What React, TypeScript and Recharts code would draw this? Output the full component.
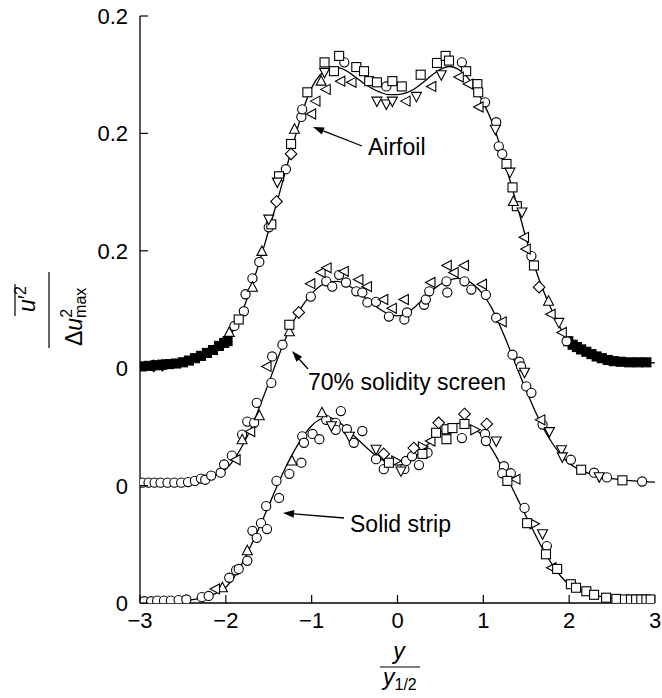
import { ComposedChart, Line, Scatter, XAxis, YAxis } from "recharts";

const FONT = "'Liberation Sans', Arial, Helvetica, sans-serif";

// axis ticks and the labels printed beside them (the figure is staggered)
const X_TICKS = [-3, -2, -1, 0, 1, 2, 3];
const Y_TICKS = [0, 0.2, 0.4, 0.6, 0.8, 1.0];
const Y_TICK_LABELS = ["0", "0", "0", "0.2", "0.2", "0.2"];

// vertical shift of each curve on the shared axis
const STRIP_OFFSET = 0;
const SCREEN_OFFSET = 0.2;
const AIRFOIL_OFFSET = 0.4;

// fitted curves, [y/y1/2, value]
const AIRFOIL_LINE = [
  [-3, 0.003], [-2.5, 0.009], [-2.25, 0.02], [-2, 0.042], [-1.9, 0.068], [-1.8, 0.1],
  [-1.7, 0.14], [-1.6, 0.185], [-1.5, 0.235], [-1.4, 0.285], [-1.3, 0.338], [-1.2, 0.39],
  [-1.1, 0.44], [-1.0, 0.478], [-0.9, 0.5], [-0.8, 0.51], [-0.7, 0.512], [-0.6, 0.507],
  [-0.5, 0.497], [-0.4, 0.486], [-0.3, 0.477], [-0.2, 0.47], [-0.1, 0.466], [0, 0.466],
  [0.1, 0.469], [0.2, 0.476], [0.3, 0.487], [0.4, 0.499], [0.5, 0.509], [0.6, 0.514],
  [0.7, 0.51], [0.8, 0.498], [0.9, 0.478], [1.0, 0.452], [1.1, 0.42], [1.2, 0.377],
  [1.3, 0.325], [1.4, 0.274], [1.5, 0.22], [1.6, 0.172], [1.7, 0.132], [1.8, 0.098],
  [1.9, 0.068], [2.0, 0.045], [2.25, 0.027], [2.5, 0.016], [2.75, 0.011], [3, 0.009],
];
const SCREEN_LINE = [
  [-3, 0.004], [-2.5, 0.006], [-2.25, 0.012], [-2, 0.028], [-1.9, 0.045], [-1.8, 0.07],
  [-1.7, 0.1], [-1.6, 0.137], [-1.5, 0.175], [-1.4, 0.215], [-1.3, 0.252], [-1.2, 0.283],
  [-1.1, 0.308], [-1.0, 0.327], [-0.9, 0.34], [-0.8, 0.347], [-0.7, 0.348], [-0.6, 0.343],
  [-0.5, 0.334], [-0.4, 0.323], [-0.3, 0.311], [-0.2, 0.3], [-0.1, 0.292], [0, 0.289],
  [0.1, 0.293], [0.2, 0.304], [0.3, 0.318], [0.4, 0.332], [0.5, 0.343], [0.6, 0.35],
  [0.7, 0.353], [0.8, 0.35], [0.9, 0.341], [1.0, 0.325], [1.1, 0.302], [1.2, 0.27],
  [1.3, 0.235], [1.4, 0.198], [1.5, 0.162], [1.6, 0.128], [1.7, 0.098], [1.8, 0.073],
  [1.9, 0.053], [2.0, 0.038], [2.25, 0.02], [2.5, 0.012], [2.75, 0.008], [3, 0.006],
];
const STRIP_LINE = [
  [-3, 0.002], [-2.5, 0.004], [-2.25, 0.01], [-2, 0.027], [-1.9, 0.045], [-1.8, 0.07],
  [-1.7, 0.1], [-1.6, 0.132], [-1.5, 0.166], [-1.4, 0.2], [-1.3, 0.232], [-1.2, 0.26],
  [-1.1, 0.284], [-1.0, 0.302], [-0.9, 0.313], [-0.8, 0.316], [-0.7, 0.31], [-0.6, 0.298],
  [-0.5, 0.284], [-0.4, 0.27], [-0.3, 0.257], [-0.2, 0.246], [-0.1, 0.238], [0, 0.235],
  [0.1, 0.238], [0.2, 0.248], [0.3, 0.262], [0.4, 0.277], [0.5, 0.291], [0.6, 0.301],
  [0.7, 0.306], [0.8, 0.305], [0.9, 0.297], [1.0, 0.283], [1.1, 0.262], [1.2, 0.236],
  [1.3, 0.207], [1.4, 0.177], [1.5, 0.147], [1.6, 0.118], [1.7, 0.09], [1.8, 0.066],
  [1.9, 0.046], [2.0, 0.031], [2.25, 0.015], [2.5, 0.008], [2.75, 0.005], [3, 0.004],
];

// airfoil measurements
const AIRFOIL_FILLED_SQ = [
  [-2.98, 0.003], [-2.9, 0.004], [-2.82, 0.005], [-2.74, 0.006], [-2.66, 0.007], [-2.58, 0.008],
  [-2.5, 0.01], [-2.43, 0.013], [-2.36, 0.017], [-2.29, 0.021], [-2.22, 0.026], [-2.15, 0.031],
  [-2.08, 0.038], [-2.02, 0.043], [-1.98, 0.046],
  [1.99, 0.046], [2.04, 0.04], [2.09, 0.036], [2.14, 0.032], [2.2, 0.028], [2.26, 0.024],
  [2.32, 0.02], [2.38, 0.017], [2.45, 0.014], [2.52, 0.012], [2.6, 0.011], [2.7, 0.01],
  [2.8, 0.01], [2.9, 0.01],
];
const AIRFOIL_FILLED_DIA = [[-2.84, 0.004], [-2.74, 0.005]];
const AIRFOIL_CIRCLE = [
  [-1.9, 0.072], [-1.79, 0.097], [-1.77, 0.126], [-1.69, 0.153], [-1.61, 0.181], [-1.5, 0.24],
  [-1.3, 0.339], [-1.12, 0.428], [-1.11, 0.441], [-0.62, 0.521], [-0.13, 0.48], [0.75, 0.521],
  [1.02, 0.453], [1.15, 0.419], [1.18, 0.378], [1.22, 0.365], [1.56, 0.191], [1.97, 0.046],
];
const AIRFOIL_SQUARE = [
  [-1.85, 0.083], [-1.47, 0.245], [-1.38, 0.327], [-1.24, 0.382], [-1.05, 0.47], [-0.85, 0.521],
  [-0.74, 0.506], [-0.68, 0.532], [-0.48, 0.513], [-0.39, 0.506], [-0.33, 0.489], [-0.24, 0.487],
  [-0.06, 0.489], [0.05, 0.48], [0.27, 0.5], [0.46, 0.52], [0.56, 0.532], [0.6, 0.524],
  [0.8, 0.506], [0.93, 0.484], [0.94, 0.47], [1.27, 0.348], [1.34, 0.308], [1.39, 0.276],
  [1.59, 0.175],
];
const AIRFOIL_DIAMOND = [[-1.41, 0.284], [-1.24, 0.365], [1.65, 0.138]];
const AIRFOIL_TRI_UP = [
  [-1.96, 0.061], [-1.69, 0.138], [-1.58, 0.199], [-1.2, 0.407], [-0.89, 0.489], [1.35, 0.284],
  [1.76, 0.114],
];
const AIRFOIL_TRI_DOWN = [
  [-1.5, 0.254], [-1.4, 0.317], [-0.85, 0.504], [-0.24, 0.455], [-0.13, 0.45], [-0.06, 0.455],
  [0.22, 0.463], [0.51, 0.5], [1.14, 0.407], [1.31, 0.334], [1.45, 0.266], [1.88, 0.078],
];
const AIRFOIL_TRI_LEFT = [
  [-1.0, 0.433], [-0.95, 0.455], [-0.83, 0.475], [-0.66, 0.489], [-0.53, 0.487], [0.1, 0.455],
  [0.4, 0.48], [0.72, 0.496], [0.83, 0.484], [0.95, 0.445], [1.48, 0.223], [1.5, 0.203],
  [1.79, 0.092], [1.92, 0.061],
];

// 70% solidity screen measurements
const SCREEN_CIRCLE = [
  [-2.97, 0.005], [-2.9, 0.005], [-2.83, 0.005], [-2.76, 0.005], [-2.68, 0.005], [-2.6, 0.005],
  [-2.52, 0.005], [-2.44, 0.006], [-2.36, 0.008], [-2.29, 0.012], [-2.24, 0.01], [-2.17, 0.017],
  [-2.06, 0.022], [-2.02, 0.036], [-1.93, 0.051], [-1.81, 0.087], [-1.75, 0.109], [-1.67, 0.107],
  [-1.64, 0.141], [-1.47, 0.175], [-1.46, 0.22], [-1.34, 0.24], [-1.01, 0.322], [-0.83, 0.348],
  [-0.76, 0.339], [-0.68, 0.359], [-0.6, 0.346], [-0.48, 0.331], [-0.41, 0.329], [-0.35, 0.312],
  [-0.25, 0.313], [-0.1, 0.288], [0.08, 0.283], [0.11, 0.295], [0.31, 0.308], [0.33, 0.317],
  [0.37, 0.331], [0.57, 0.348], [0.58, 0.329], [0.78, 0.348], [0.86, 0.334], [1.03, 0.325],
  [1.15, 0.286], [1.34, 0.223], [1.42, 0.211], [1.44, 0.203], [1.5, 0.169], [1.56, 0.158],
  [1.69, 0.104], [2.02, 0.044], [2.29, 0.022], [2.44, 0.014], [2.85, 0.007],
];
const SCREEN_TRI_LEFT = [
  [-1.88, 0.044], [-1.71, 0.092], [-1.52, 0.203], [-1.01, 0.344], [-0.89, 0.363], [-0.82, 0.371],
  [-0.62, 0.365], [-0.45, 0.351], [-0.35, 0.339], [-0.16, 0.317], [-0.06, 0.302], [0.08, 0.317],
  [0.39, 0.346], [0.58, 0.375], [0.66, 0.363], [0.78, 0.375], [0.99, 0.343], [1.22, 0.279],
  [1.67, 0.112],
];
const SCREEN_TRI_UP = [[-1.81, 0.078], [-1.61, 0.119], [-1.26, 0.262]];
const SCREEN_TRI_DOWN = [[1.48, 0.193], [1.77, 0.092], [1.91, 0.061], [1.92, 0.049], [2.35, 0.015]];
const SCREEN_SQUARE = [[-1.26, 0.274], [2.14, 0.027], [2.62, 0.009]];
const SCREEN_DIAMOND = [[-1.15, 0.295]];

// solid strip measurements
const STRIP_CIRCLE = [
  [-2.95, 0.003], [-2.87, 0.003], [-2.8, 0.004], [-2.72, 0.004], [-2.64, 0.004], [-2.55, 0.005],
  [-2.46, 0.006], [-2.28, 0.01], [-2.2, 0.012], [-1.96, 0.043], [-1.88, 0.056], [-1.85, 0.058],
  [-1.75, 0.072], [-1.69, 0.123], [-1.64, 0.111], [-1.59, 0.136], [-1.52, 0.126], [-1.53, 0.165],
  [-1.38, 0.179], [-1.41, 0.208], [-1.26, 0.22], [-1.12, 0.239], [-1.11, 0.284], [-1.09, 0.273],
  [-0.99, 0.288], [-0.91, 0.279], [-0.83, 0.312], [-0.72, 0.307], [-0.66, 0.327], [-0.72, 0.295],
  [-0.59, 0.296], [-0.51, 0.273], [-0.41, 0.293], [-0.25, 0.245], [-0.16, 0.228], [0.08, 0.228],
  [0.1, 0.242], [0.17, 0.25], [0.25, 0.235], [0.35, 0.256], [0.75, 0.281], [1.02, 0.288],
  [1.03, 0.276], [1.24, 0.233], [1.22, 0.221], [1.32, 0.221], [1.48, 0.162], [1.74, 0.097],
];
const STRIP_TRI_UP = [[-2.04, 0.026], [-1.75, 0.089], [-1.23, 0.242], [-0.88, 0.324]];
const STRIP_TRI_LEFT = [[-2.12, 0.024], [0.39, 0.276], [1.38, 0.211], [1.8, 0.06]];
const STRIP_TRI_DOWN = [
  [-0.77, 0.302], [-0.56, 0.284], [-0.25, 0.262], [0.04, 0.225], [1.15, 0.276], [1.69, 0.118],
];
const STRIP_TRI_RIGHT = [[-0.02, 0.242], [0.29, 0.266], [0.9, 0.295], [1.59, 0.135]];
const STRIP_SQUARE = [
  [-0.1, 0.239], [0.29, 0.254], [0.45, 0.29], [0.57, 0.296], [0.57, 0.279], [0.64, 0.298],
  [0.78, 0.305], [1.28, 0.208], [1.51, 0.136], [1.73, 0.083], [1.86, 0.058], [2.02, 0.032],
  [2.08, 0.026], [2.2, 0.02], [2.29, 0.014], [2.43, 0.009], [2.55, 0.007], [2.65, 0.006],
  [2.72, 0.006], [2.78, 0.006], [2.84, 0.006], [2.9, 0.006], [2.95, 0.006],
];
const STRIP_DIAMOND = [[-0.16, 0.254], [0.19, 0.264], [0.48, 0.307], [0.78, 0.322], [1.04, 0.305]];

const toRows = (pts: number[][], off: number) => pts.map(([x, v]) => ({ x, y: v + off }));

const LINES = [
  { id: "airfoil", pts: AIRFOIL_LINE, off: AIRFOIL_OFFSET },
  { id: "screen", pts: SCREEN_LINE, off: SCREEN_OFFSET },
  { id: "strip", pts: STRIP_LINE, off: STRIP_OFFSET },
];

const MARKERS = [
  { id: "a-fsq", pts: AIRFOIL_FILLED_SQ, off: AIRFOIL_OFFSET, kind: "square", filled: true },
  { id: "a-fdi", pts: AIRFOIL_FILLED_DIA, off: AIRFOIL_OFFSET, kind: "diamond", filled: true },
  { id: "a-ci", pts: AIRFOIL_CIRCLE, off: AIRFOIL_OFFSET, kind: "circle" },
  { id: "a-sq", pts: AIRFOIL_SQUARE, off: AIRFOIL_OFFSET, kind: "square" },
  { id: "a-di", pts: AIRFOIL_DIAMOND, off: AIRFOIL_OFFSET, kind: "diamond" },
  { id: "a-tu", pts: AIRFOIL_TRI_UP, off: AIRFOIL_OFFSET, kind: "triUp" },
  { id: "a-td", pts: AIRFOIL_TRI_DOWN, off: AIRFOIL_OFFSET, kind: "triDown" },
  { id: "a-tl", pts: AIRFOIL_TRI_LEFT, off: AIRFOIL_OFFSET, kind: "triLeft" },
  { id: "s-ci", pts: SCREEN_CIRCLE, off: SCREEN_OFFSET, kind: "circle" },
  { id: "s-tl", pts: SCREEN_TRI_LEFT, off: SCREEN_OFFSET, kind: "triLeft" },
  { id: "s-tu", pts: SCREEN_TRI_UP, off: SCREEN_OFFSET, kind: "triUp" },
  { id: "s-td", pts: SCREEN_TRI_DOWN, off: SCREEN_OFFSET, kind: "triDown" },
  { id: "s-sq", pts: SCREEN_SQUARE, off: SCREEN_OFFSET, kind: "square" },
  { id: "s-di", pts: SCREEN_DIAMOND, off: SCREEN_OFFSET, kind: "diamond" },
  { id: "t-ci", pts: STRIP_CIRCLE, off: STRIP_OFFSET, kind: "circle" },
  { id: "t-tu", pts: STRIP_TRI_UP, off: STRIP_OFFSET, kind: "triUp" },
  { id: "t-tl", pts: STRIP_TRI_LEFT, off: STRIP_OFFSET, kind: "triLeft" },
  { id: "t-td", pts: STRIP_TRI_DOWN, off: STRIP_OFFSET, kind: "triDown" },
  { id: "t-tr", pts: STRIP_TRI_RIGHT, off: STRIP_OFFSET, kind: "triRight" },
  { id: "t-sq", pts: STRIP_SQUARE, off: STRIP_OFFSET, kind: "square" },
  { id: "t-di", pts: STRIP_DIAMOND, off: STRIP_OFFSET, kind: "diamond" },
];

const X_TICK_MARGIN = 10;
const Y_TICK_MARGIN = 12;

const markerShape = (kind: string, filled?: boolean) => (p: any) => {
  const { cx, cy } = p;
  if (cx == null || cy == null) return <g />;
  const st = { fill: filled ? "#000" : "#fff", stroke: "#000", strokeWidth: 1.1 };
  const pts = (a: number[][]) => a.map(([dx, dy]) => `${cx + dx},${cy + dy}`).join(" ");
  switch (kind) {
    case "circle":
      return <circle cx={cx} cy={cy} r={4.6} {...st} />;
    case "square":
      return <rect x={cx - 4.5} y={cy - 4.5} width={9} height={9} {...st} />;
    case "diamond":
      return <polygon points={pts([[0, -5.8], [5.8, 0], [0, 5.8], [-5.8, 0]])} {...st} />;
    case "triUp":
      return <polygon points={pts([[0, -5.5], [5, 4], [-5, 4]])} {...st} />;
    case "triDown":
      return <polygon points={pts([[-5, -4], [5, -4], [0, 5.5]])} {...st} />;
    case "triLeft":
      return <polygon points={pts([[-5.5, 0], [4, -5], [4, 5]])} {...st} />;
    default:
      return <polygon points={pts([[5.5, 0], [-4, -5], [-4, 5]])} {...st} />;
  }
};

const XTick = (props: any) => {
  const { x, y, payload } = props;
  const axisY = y - X_TICK_MARGIN;
  const v = payload.value;
  const label = v < 0 ? `\u2212${Math.abs(v)}` : String(v);
  return (
    <g>
      <line x1={x} x2={x} y1={axisY} y2={axisY - 8} stroke="#000" strokeWidth={1.2} />
      <text x={x} y={axisY + 25} textAnchor="middle" fontSize={22} fontFamily={FONT} fill="#000">
        {label}
      </text>
    </g>
  );
};

const YTick = (props: any) => {
  const { x, y, payload } = props;
  const axisX = x + Y_TICK_MARGIN;
  const i = Y_TICKS.findIndex((t) => Math.abs(t - payload.value) < 1e-6);
  return (
    <g>
      <line x1={axisX} x2={axisX + 8} y1={y} y2={y} stroke="#000" strokeWidth={1.2} />
      <text x={x} y={y + 8} textAnchor="end" fontSize={22} fontFamily={FONT} fill="#000">
        {Y_TICK_LABELS[i] ?? ""}
      </text>
    </g>
  );
};

const Arrow = ({ from, to }: { from: number[]; to: number[] }) => {
  const dx = to[0] - from[0];
  const dy = to[1] - from[1];
  const len = Math.hypot(dx, dy);
  const ux = dx / len;
  const uy = dy / len;
  const bx = to[0] - ux * 11;
  const by = to[1] - uy * 11;
  const head = `${to[0]},${to[1]} ${bx - uy * 3.8},${by + ux * 3.8} ${bx + uy * 3.8},${by - ux * 3.8}`;
  return (
    <g>
      <line x1={from[0]} y1={from[1]} x2={bx} y2={by} stroke="#000" strokeWidth={1.3} />
      <polygon points={head} fill="#000" />
    </g>
  );
};

export default function App() {
  return (
    <div style={{ position: "absolute", left: 0, top: 0, width: 662, height: 698, background: "#fff" }}>
      <ComposedChart width={662} height={698} margin={{ top: 16, right: 7, bottom: 55, left: 0 }}>
        <XAxis
          type="number"
          dataKey="x"
          domain={[-3, 3]}
          ticks={X_TICKS}
          interval={0}
          allowDataOverflow
          height={40}
          tickSize={0}
          tickMargin={X_TICK_MARGIN}
          tickLine={false}
          axisLine={{ stroke: "#000", strokeWidth: 1.3 }}
          tick={<XTick />}
        />
        <YAxis
          type="number"
          dataKey="y"
          domain={[0, 1]}
          ticks={Y_TICKS}
          interval={0}
          allowDataOverflow
          width={140}
          tickSize={0}
          tickMargin={Y_TICK_MARGIN}
          tickLine={false}
          axisLine={{ stroke: "#000", strokeWidth: 1.3 }}
          tick={<YTick />}
        />
        {LINES.map((l) => (
          <Line
            key={l.id}
            data={toRows(l.pts, l.off)}
            dataKey="y"
            type="monotone"
            stroke="#000"
            strokeWidth={1.3}
            dot={false}
            activeDot={false}
            isAnimationActive={false}
          />
        ))}
        {MARKERS.map((m) => (
          <Scatter
            key={m.id}
            data={toRows(m.pts, m.off)}
            shape={markerShape(m.kind, m.filled)}
            isAnimationActive={false}
          />
        ))}
      </ComposedChart>
      <svg
        width={662}
        height={698}
        style={{ position: "absolute", left: 0, top: 0, pointerEvents: "none" }}
        fontFamily={FONT}
      >
        <Arrow from={[362, 146]} to={[313, 127]} />
        <text x={368} y={155} fontSize={23} fill="#000">Airfoil</text>
        <Arrow from={[308, 369]} to={[292, 351]} />
        <text x={308} y={390} fontSize={23} fill="#000">70% solidity screen</text>
        <Arrow from={[344, 518]} to={[283, 513]} />
        <text x={350} y={532} fontSize={23} fill="#000">Solid strip</text>

        {/* x label: y / y_1/2 */}
        <text x={399} y={659} textAnchor="middle" fontSize={23} fontStyle="italic" fill="#000">y</text>
        <line x1={380} x2={420} y1={667} y2={667} stroke="#000" strokeWidth={1.2} />
        <text x={383} y={685} fontSize={23} fill="#000">
          <tspan fontStyle="italic">y</tspan>
          <tspan fontSize={16} dy={5}>1/2</tspan>
        </text>

        {/* y label: overline u'^2 / Δu^2_max, rotated */}
        <g transform="translate(49 310) rotate(-90)">
          <line x1={-38} x2={38} y1={0} y2={0} stroke="#000" strokeWidth={1.2} />
          <line x1={-6} x2={26} y1={-34} y2={-34} stroke="#000" strokeWidth={1.2} />
          <text x={-2} y={-14} fontSize={23} fill="#000">
            <tspan fontStyle="italic">u</tspan>
            <tspan>{"\u2032"}</tspan>
            <tspan fontSize={16} dy={-9}>2</tspan>
          </text>
          <text x={-36} y={33} fontSize={23} fill="#000">
            <tspan>{"\u0394"}</tspan>
            <tspan fontStyle="italic">u</tspan>
            <tspan fontSize={16} dy={-10}>2</tspan>
            <tspan fontSize={16} dx={-9} dy={14}>max</tspan>
          </text>
        </g>
      </svg>
    </div>
  );
}
